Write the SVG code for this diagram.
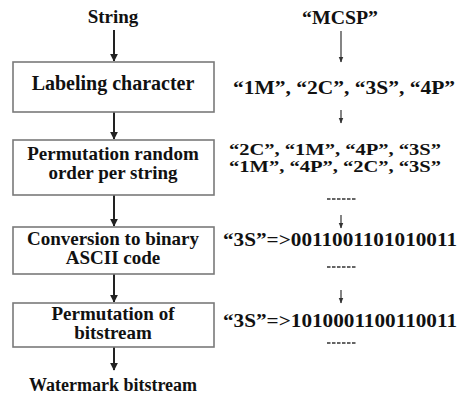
<svg xmlns="http://www.w3.org/2000/svg" width="468" height="407" viewBox="0 0 468 407">
<style>
.t{font-family:"Liberation Serif","Times New Roman",serif;font-weight:bold;font-size:19px;fill:#111;text-anchor:middle}
.r{font-family:"Liberation Serif","Times New Roman",serif;font-weight:bold;font-size:19px;fill:#111;text-anchor:middle}
.r2{font-size:16px}
.box{fill:#fff;stroke:#7a7a7a;stroke-width:1.6}
.ln{stroke:#222;stroke-width:2;fill:none}
.thin{stroke:#333;stroke-width:1.2;fill:none}
.dash{stroke:#333;stroke-width:1.6;stroke-dasharray:3.5 1.5}
</style>
<defs>
<marker id="ah" viewBox="0 0 10 10" refX="9" refY="5" markerWidth="4" markerHeight="4" orient="auto" markerUnits="strokeWidth">
<path d="M0,0 L10,5 L0,10 z" fill="#222"/>
</marker>
<marker id="ahs" viewBox="0 0 10 10" refX="9" refY="5" markerWidth="5" markerHeight="5" orient="auto" markerUnits="strokeWidth">
<path d="M0,1 L10,5 L0,9 z" fill="#333"/>
</marker>
</defs>
<g id="connectors">
<line class="ln" x1="114" y1="30" x2="114" y2="61" marker-end="url(#ah)"/>
<line class="ln" x1="114" y1="112" x2="114" y2="139" marker-end="url(#ah)"/>
<line class="ln" x1="114" y1="195" x2="114" y2="226" marker-end="url(#ah)"/>
<line class="ln" x1="114" y1="274" x2="114" y2="302" marker-end="url(#ah)"/>
<line class="ln" x1="114" y1="347" x2="114" y2="370" marker-end="url(#ah)"/>
<line class="thin" x1="341" y1="31" x2="341" y2="62" marker-end="url(#ahs)"/>
<line class="thin" x1="341" y1="110" x2="341" y2="123" marker-end="url(#ahs)"/>
<line class="thin" x1="341" y1="215" x2="341" y2="228" marker-end="url(#ahs)"/>
<line class="thin" x1="341" y1="290" x2="341" y2="303" marker-end="url(#ahs)"/>
</g>
<g id="n-string"><text class="t" x="113" y="23">String</text></g>
<g id="n-labeling">
<rect class="box" x="13" y="62" width="201" height="50"/>
<text class="t" x="113" y="90" style="font-size:20px">Labeling character</text>
</g>
<g id="n-perm">
<rect class="box" x="13" y="140" width="201" height="55"/>
<text class="t" x="113" y="160">Permutation random</text>
<text class="t" x="113" y="179">order per string</text>
</g>
<g id="n-conv">
<rect class="box" x="13" y="227" width="201" height="47"/>
<text class="t" x="113" y="245">Conversion to binary</text>
<text class="t" x="113" y="264">ASCII code</text>
</g>
<g id="n-permbits">
<rect class="box" x="13" y="303" width="201" height="44"/>
<text class="t" x="113" y="320">Permutation of</text>
<text class="t" x="113" y="339">bitstream</text>
</g>
<g id="n-watermark"><text class="t" x="113" y="391" style="font-size:18px">Watermark bitstream</text></g>
<g id="n-mcsp"><text class="r" x="340" y="24" textLength="76" lengthAdjust="spacingAndGlyphs">“MCSP”</text></g>
<g id="n-labels"><text class="r" x="344" y="94" textLength="222" lengthAdjust="spacingAndGlyphs">“1M”, “2C”, “3S”, “4P”</text></g>
<g id="n-perms">
<text class="r r2" x="335" y="155" textLength="212" lengthAdjust="spacingAndGlyphs">“2C”, “1M”, “4P”, “3S”</text>
<text class="r r2" x="335" y="172" textLength="212" lengthAdjust="spacingAndGlyphs">“1M”, “4P”, “2C”, “3S”</text>
<line class="dash" x1="327" y1="199" x2="356" y2="199"/>
</g>
<g id="n-binary">
<text class="r" x="340" y="246" textLength="234" lengthAdjust="spacingAndGlyphs">“3S”=&gt;0011001101010011</text>
<line class="dash" x1="327" y1="267" x2="356" y2="267"/>
</g>
<g id="n-bitperm">
<text class="r" x="340" y="327" textLength="234" lengthAdjust="spacingAndGlyphs">“3S”=&gt;1010001100110011</text>
<line class="dash" x1="327" y1="343" x2="356" y2="343"/>
</g>
</svg>
